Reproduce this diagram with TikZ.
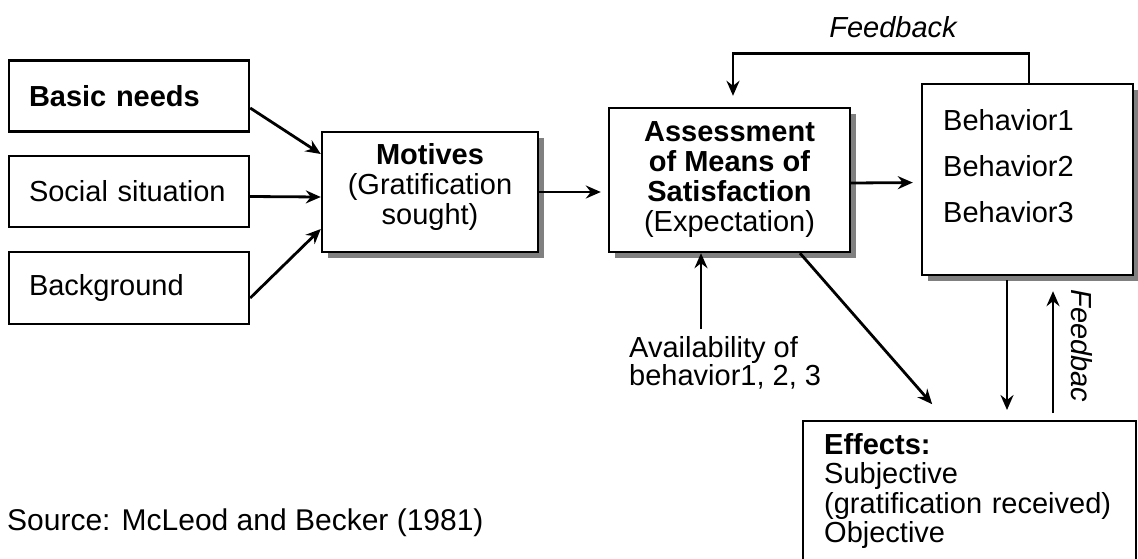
\documentclass[tikz,border=0pt]{standalone}
\usepackage{fontspec}
\setmainfont{Liberation Sans}
\usetikzlibrary{arrows.meta,shadows}

\begin{document}
\begin{tikzpicture}[x=1pt,y=-1pt,
    every node/.style={font=\fontsize{29}{30}\selectfont},
    inbox/.style={draw,line width=2.4pt,text width=200pt,inner xsep=20pt,minimum height=71pt,align=left},
    mainbox/.style={draw,line width=2.4pt,fill=white,align=center,inner sep=0pt,
        drop shadow={shadow xshift=6pt,shadow yshift=-6pt,fill=black!50,opacity=1}},
    arr/.style={-{Stealth[length=15pt,width=13pt,inset=5pt]},line width=2.8pt}]
    \useasboundingbox (0,0) rectangle (1138,558);
    \node[inbox,font=\fontsize{29}{30}\selectfont\bfseries] (basic) at (129,96) {Basic needs};
    \node[inbox] (social) at (129,191.5) {Social situation};
    \node[inbox,minimum height=72pt] (bg) at (129,288) {Background};
    \node[mainbox,minimum width=216pt,minimum height=120pt,text depth=16pt] (motives) at (430,192) {\textbf{Motives}\\(Gratification\\sought)};
    \node[mainbox,minimum width=241pt,minimum height=144pt] (assess) at (729.5,180) {\textbf{Assessment}\\\textbf{of Means of}\\\textbf{Satisfaction}\\(Expectation)};
    \node[mainbox,minimum width=211pt,minimum height=191pt] (beh) at (1027.5,179.5) {};
    \node[anchor=north west,inner sep=0pt,align=left,font=\fontsize{29}{46}\selectfont] (behlist) at (943,109) {Behavior1\\Behavior2\\Behavior3};
    \node[draw,line width=2.4pt,anchor=north west,minimum width=333pt,minimum height=140pt,text width=291pt,inner xsep=21pt,align=left,font=\fontsize{29}{29.5}\selectfont] (effects) at (802,420) {\textbf{Effects:}\\Subjective\\\mbox{(gratification received)}\\Objective};
    \node[anchor=north west,inner sep=0pt,align=left,font=\fontsize{29}{28}\selectfont] (avail) at (629,336) {Availability of\\behavior1, 2, 3};
    \node[inner sep=0pt,font=\fontsize{29}{30}\selectfont\itshape] (fbtop) at (893,27) {Feedback};
    \node[inner sep=0pt,rotate=-90,font=\fontsize{29}{30}\selectfont\itshape] (fbside) at (1082,346) {Feedbac};
    \node[anchor=west,inner sep=0pt,font=\fontsize{30}{32}\selectfont] (src) at (7,523) {Source: McLeod and Becker (1981)};
    \coordinate (dn) at ([xshift=-20.5pt]beh.south);
    \coordinate (up) at ([xshift=25.5pt]beh.south);
    \draw[arr] ([yshift=-12pt]basic.east) -- ([yshift=38pt]motives.west);
    \draw[arr] ([yshift=-5pt]social.east) -- ([yshift=-5pt]motives.west);
    \draw[arr] ([yshift=-10pt]bg.east) -- ([yshift=-37pt]motives.west);
    \draw[arr,shorten >=7pt] (motives.east) -- (motives.east -| assess.west);
    \draw[arr,shorten >=8pt] ([yshift=-3pt]assess.east) -- ([yshift=-3pt]beh.west);
    \draw[arr,shorten >=11pt] ([xshift=1.5pt]beh.north) -- ++(0,-29) -| ([xshift=3.5pt]assess.north);
    \draw[arr] ([xshift=-28.5pt,yshift=-76pt]assess.south) -- ([xshift=-28.5pt]assess.south);
    \draw[arr,shorten >=21pt] ([xshift=70.5pt]assess.south) -- ([xshift=144pt]effects.north west);
    \draw[arr,shorten <=4pt,shorten >=10pt] (dn) -- (dn |- effects.north);
    \draw[arr,shorten <=7pt,shorten >=15pt] (up |- effects.north) -- (up);
\end{tikzpicture}
\end{document}
